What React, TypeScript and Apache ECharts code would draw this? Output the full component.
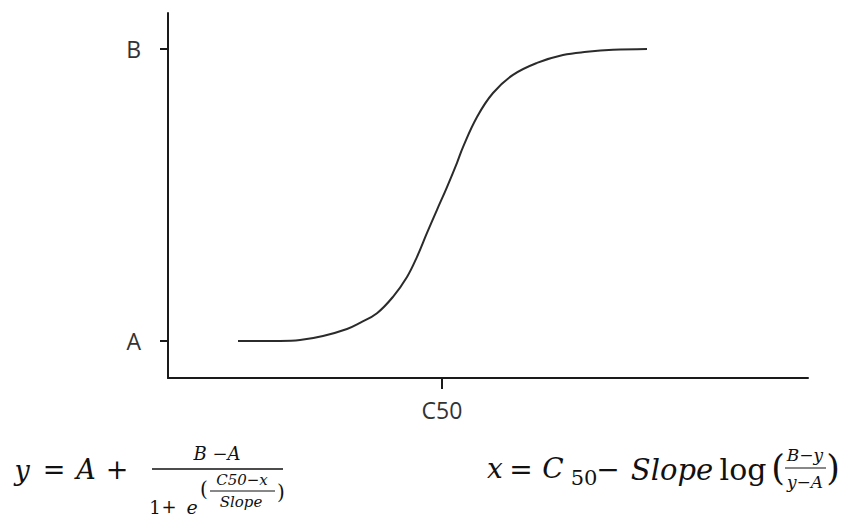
import React, { useEffect, useRef } from "react";
import * as echarts from "echarts";

// Curve: x relative to C50 (C50 = 0), y normalised (A = 0, B = 1)
const curveX = [-2.04, -1.62, -1.42, -1.19, -0.95, -0.82, -0.65, -0.49, -0.35, -0.25, -0.15, -0.05, 0.05, 0.15, 0.21, 0.35, 0.51, 0.71, 0.95, 1.21, 1.45, 1.71, 2.05];
const curveY = [0, 0, 0.003, 0.017, 0.041, 0.062, 0.095, 0.151, 0.219, 0.288, 0.37, 0.449, 0.527, 0.61, 0.664, 0.767, 0.849, 0.911, 0.952, 0.979, 0.99, 0.997, 1.0];
const yTickValues = [0, 1];
const yTickLabels = ["A", "B"];
const xTickValues = [0];
const xTickLabels = ["C50"];

const serif = "'DejaVu Serif', 'Liberation Serif', serif";
const ink = "#111111";

type Tok = [string, number, number, number, boolean];
// [text, centerX, centerY, fontSize, italic]
const formulaTokens: Tok[] = [
  ["y", 22, 470, 27, true],
  ["=", 54, 469, 27, false],
  ["A", 86, 469, 27, true],
  ["+", 117, 469, 27, false],
  ["B −A", 217, 453, 18, true],
  ["1", 155, 507, 18, false],
  ["+", 169, 506, 18, false],
  ["e", 192, 507, 19, true],
  ["(", 204, 489, 20, false],
  ["C50−x", 242, 480, 15, true],
  ["Slope", 241, 502, 15, true],
  [")", 281, 492, 20, false],
  ["x", 495, 468, 28, true],
  ["=", 521, 469, 28, false],
  ["C", 553, 468, 28, true],
  ["50", 584, 478, 21, false],
  ["−", 608, 469, 28, false],
  ["Slope", 672, 470, 29, true],
  ["log", 743, 469, 30, false],
  ["(", 778, 468, 35, false],
  ["B−y", 805, 455, 17, true],
  ["y−A", 805, 482, 17, true],
  [")", 833, 468, 35, false],
];
const fractionBars: [number, number, number, number][] = [
  [152, 283, 469, 1.5],
  [210, 275, 491, 1],
  [785, 826, 468, 1],
];

export default function App() {
  const ref = useRef<HTMLDivElement>(null);
  useEffect(() => {
    const chart = echarts.init(ref.current!, null, { renderer: "svg" });
    const axisColor = "#1a1a1a";
    const labelColor = "#333333";
    const labelFont = "'Open Sans', 'Noto Sans', sans-serif";
    chart.setOption({
      animation: false,
      backgroundColor: "#ffffff",
      grid: { left: 168, right: 41, top: 13, bottom: 139, containLabel: false },
      xAxis: {
        type: "value",
        min: -2.74,
        max: 3.66,
        splitLine: { show: false },
        axisLine: { show: true, onZero: false, lineStyle: { color: axisColor, width: 2 } },
        axisTick: { show: true, customValues: xTickValues, length: 11, lineStyle: { color: axisColor, width: 2 } },
        axisLabel: {
          show: true,
          customValues: xTickValues,
          margin: 20,
          color: labelColor,
          fontSize: 23,
          fontFamily: labelFont,
          formatter: (v: number) => xTickLabels[xTickValues.indexOf(v)] ?? "",
        },
      },
      yAxis: {
        type: "value",
        min: -0.127,
        max: 1.123,
        splitLine: { show: false },
        axisLine: { show: true, onZero: false, lineStyle: { color: axisColor, width: 2 } },
        axisTick: { show: true, customValues: yTickValues, length: 8, lineStyle: { color: axisColor, width: 2 } },
        axisLabel: {
          show: true,
          customValues: yTickValues,
          margin: 27,
          color: labelColor,
          fontSize: 23,
          fontFamily: labelFont,
          formatter: (v: number) => yTickLabels[yTickValues.indexOf(v)] ?? "",
        },
      },
      series: [
        {
          type: "line",
          data: curveX.map((x, i) => [x, curveY[i]]),
          smooth: 0.4,
          showSymbol: false,
          lineStyle: { color: "#2b2b2b", width: 2 },
        },
      ],
      graphic: [
        ...formulaTokens.map(([t, x, y, s, it]) => ({
          type: "text",
          x,
          y,
          style: {
            text: t,
            font: `${it ? "italic " : ""}${s}px ${serif}`,
            fill: ink,
            align: "center",
            verticalAlign: "middle",
          },
        })),
        ...fractionBars.map(([x1, x2, y, w]) => ({
          type: "line",
          shape: { x1, y1: y, x2, y2: y },
          style: { stroke: ink, lineWidth: w },
        })),
      ],
    });
    return () => chart.dispose();
  }, []);
  return <div ref={ref} style={{ position: "absolute", left: 0, top: 0, width: 849, height: 517 }} />;
}
